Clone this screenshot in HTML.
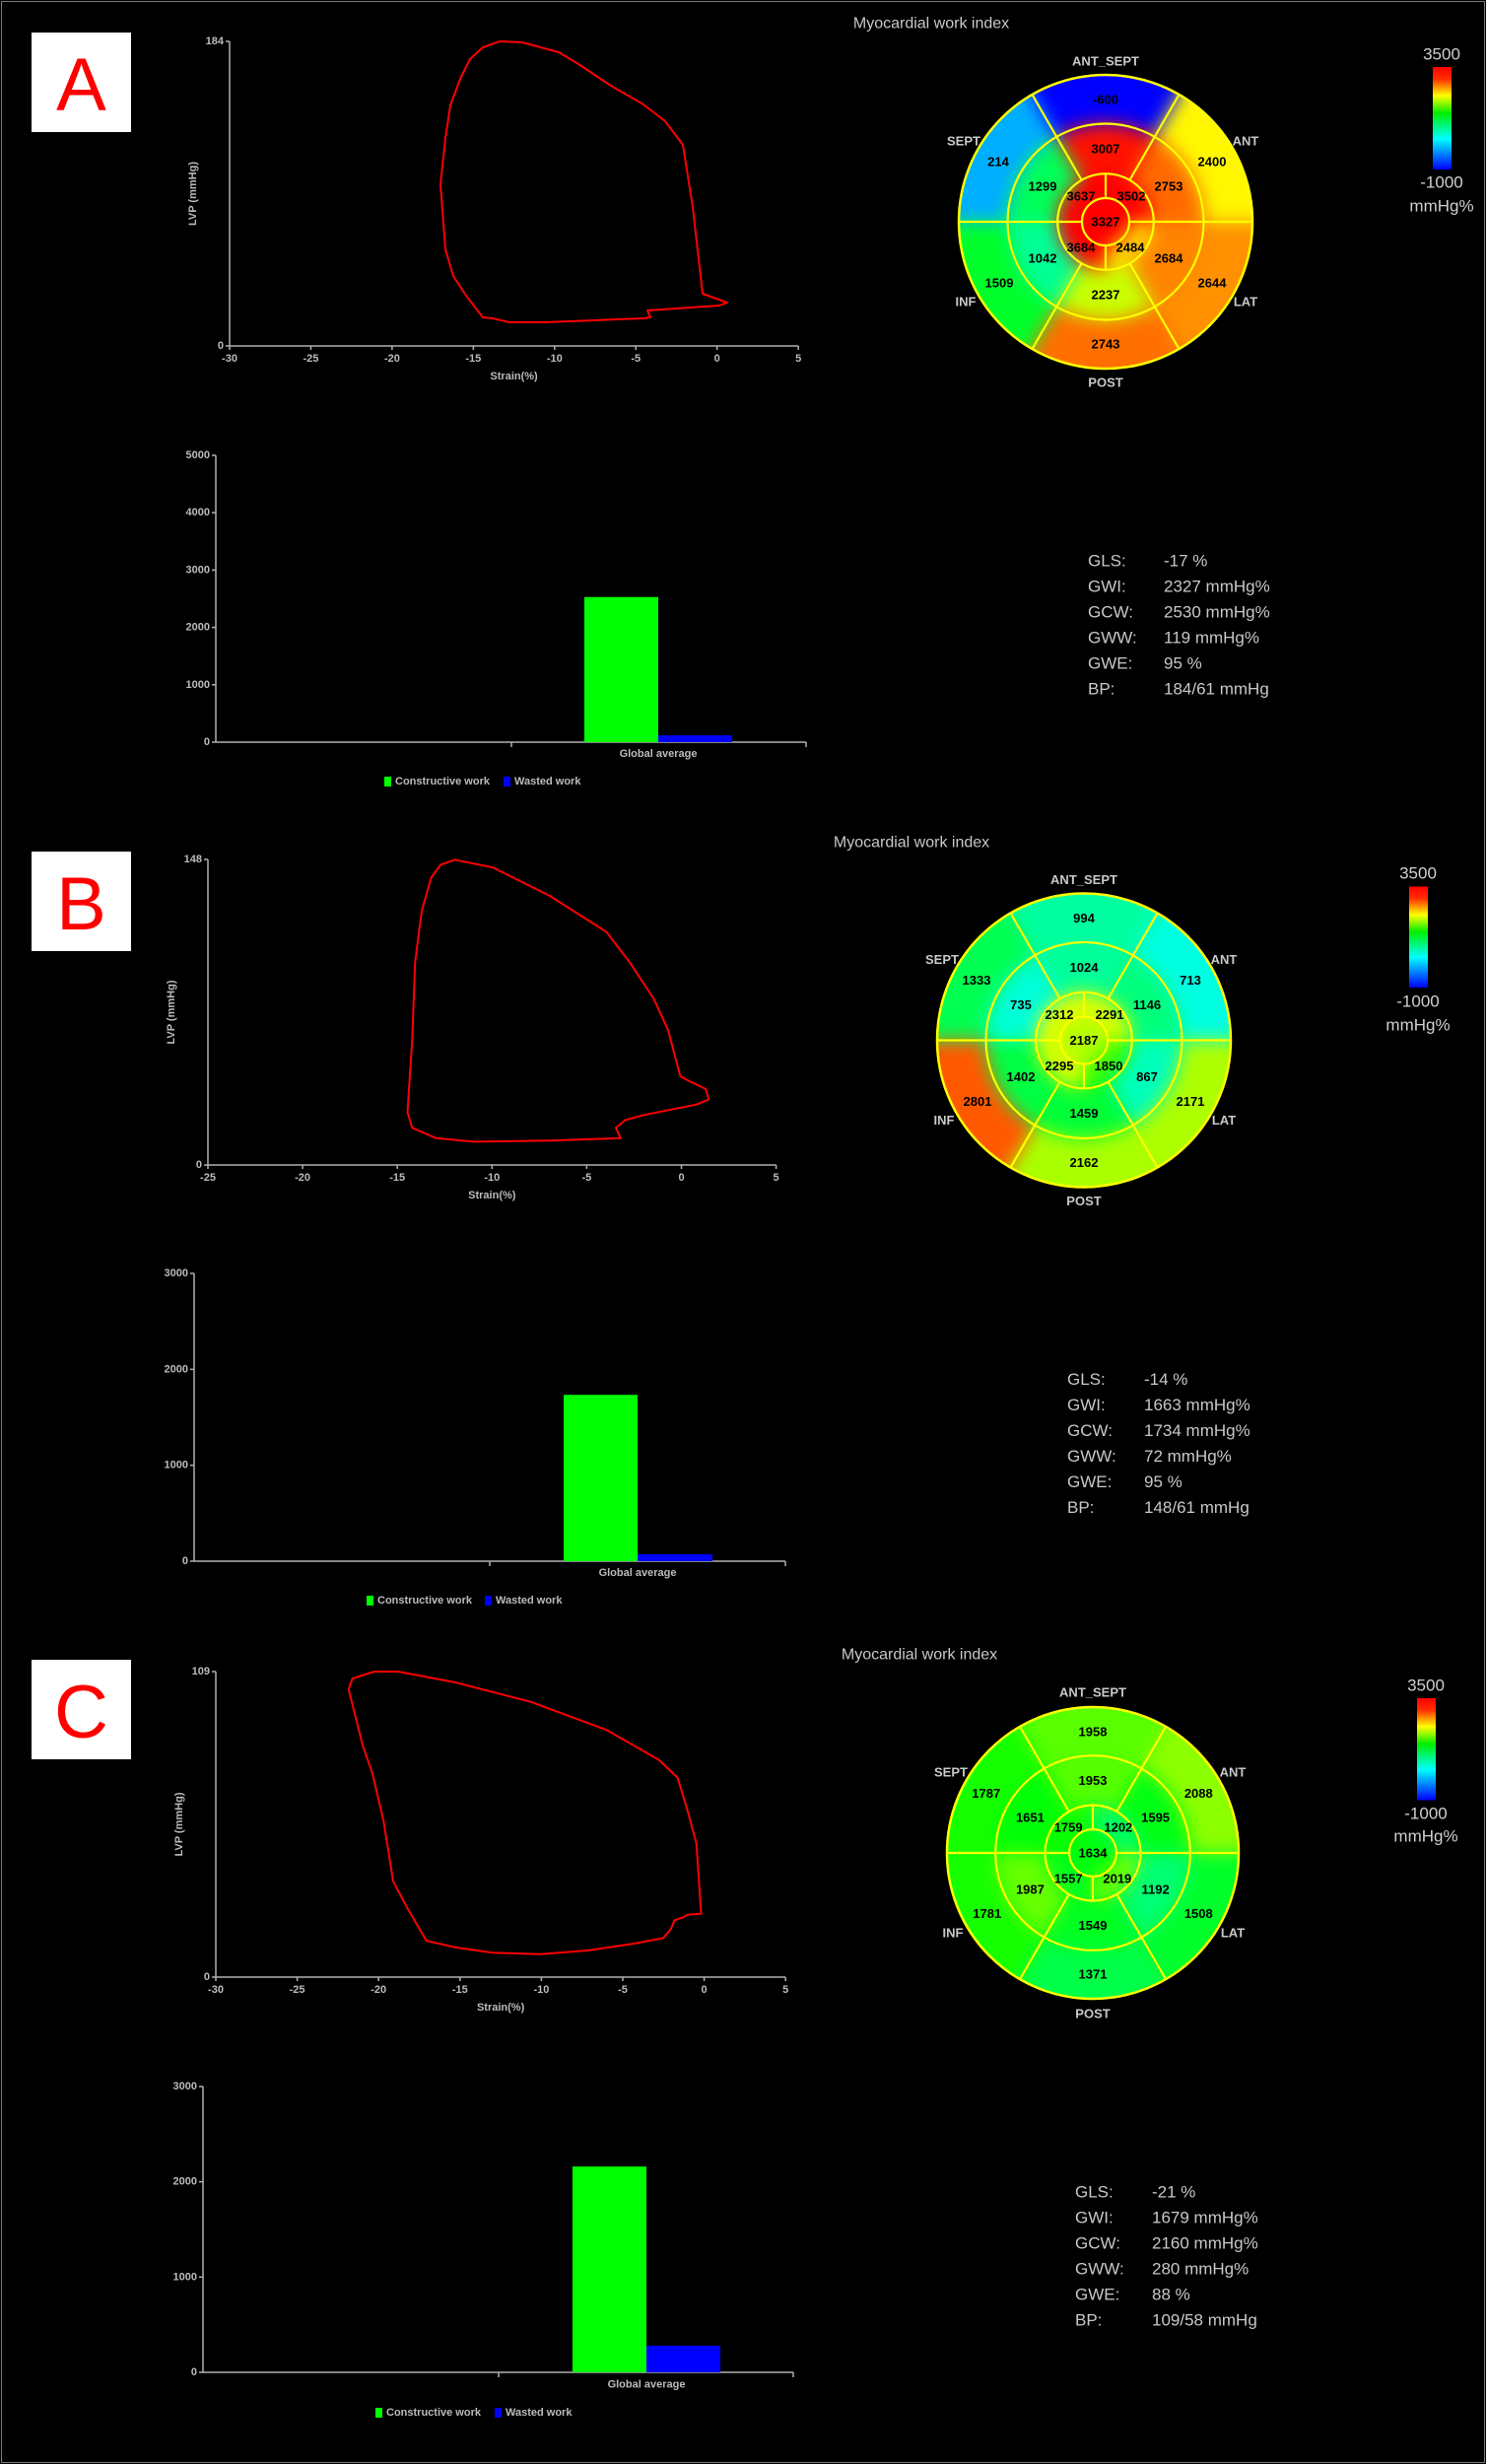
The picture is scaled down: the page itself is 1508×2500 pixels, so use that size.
<!DOCTYPE html>
<html><head><meta charset="utf-8">
<style>
html,body{margin:0;padding:0;background:#000;}
svg{display:block;}
text{font-family:"Liberation Sans",Arial,sans-serif;}
</style></head>
<body>
<svg id="s" xmlns="http://www.w3.org/2000/svg" width="1508" height="2500" viewBox="0 0 1508 2500">
<rect x="0" y="0" width="1508" height="2500" fill="#000"/>
<rect x="1.5" y="1.5" width="1505" height="2497" fill="none" stroke="#777" stroke-width="1"/>
<defs>
<filter id="bl" filterUnits="userSpaceOnUse" x="0" y="0" width="1508" height="2500"><feGaussianBlur stdDeviation="10"/></filter>
<linearGradient id="cb" x1="0" y1="0" x2="0" y2="1">
<stop offset="0" stop-color="#ff0000"/><stop offset="0.12" stop-color="#ff3000"/><stop offset="0.2" stop-color="#ff9900"/><stop offset="0.28" stop-color="#ffff00"/><stop offset="0.45" stop-color="#00ee00"/><stop offset="0.7" stop-color="#00ffff"/><stop offset="0.85" stop-color="#0080ff"/><stop offset="1" stop-color="#0000ff"/>
</linearGradient>
</defs>
<g id="root"></g>
</svg>
<script>
var NS="http://www.w3.org/2000/svg",root=document.getElementById('root');
function el(t,a,txt,p){var e=document.createElementNS(NS,t);for(var k in a)e.setAttribute(k,a[k]);if(txt!=null)e.textContent=txt;(p||root).appendChild(e);return e;}
function hue(v){var t=(v+1000)/4500;var st=[[0,240],[0.1,240],[0.35,180],[0.62,115],[0.75,60],[0.82,30],[0.9,0],[1,0]];
 if(t<=0)return 240;if(t>=1)return 0;for(var i=1;i<st.length;i++){if(t<=st[i][0]){var a=st[i-1],b=st[i];return a[1]+(b[1]-a[1])*(t-a[0])/(b[0]-a[0]);}}return 0;}
function col(v){return 'hsl('+hue(v).toFixed(0)+',100%,50%)';}
function sector(cx,cy,r1,r2,a1,a2){var d=Math.PI/180;function P(r,a){return (cx+r*Math.cos(a*d)).toFixed(2)+' '+(cy+r*Math.sin(a*d)).toFixed(2);}
 var lg=(a2-a1)>180?1:0;
 if(r1<=0)return 'M'+cx+' '+cy+' L'+P(r2,a1)+' A'+r2+' '+r2+' 0 '+lg+' 1 '+P(r2,a2)+' Z';
 return 'M'+P(r1,a1)+' L'+P(r2,a1)+' A'+r2+' '+r2+' 0 '+lg+' 1 '+P(r2,a2)+' L'+P(r1,a2)+' A'+r1+' '+r1+' 0 '+lg+' 0 '+P(r1,a1)+' Z';}
var cid=0;
function bull(cx,cy,R,v){
 var s=R/149.5,r2=99.5*s,r1=48.8*s,r0=24*s;
 cid++;el('clipPath',{id:'c'+cid});var cp=root.lastChild;el('circle',{cx:cx,cy:cy,r:R},null,cp);
 var g=el('g',{'clip-path':'url(#c'+cid+')'});var gb=el('g',{filter:'url(#bl)',style:'filter:blur(9px)'},null,g);
 var six={top:[240,300],UL:[180,240],UR:[300,360],LL:[120,180],LR:[0,60],bot:[60,120]};
 var keys=['top','UL','UR','LL','LR','bot'];
 keys.forEach(function(k,i){el('path',{d:sector(cx,cy,r2,R+40,six[k][0],six[k][1]),fill:col(v.b[i])},null,gb);});
 keys.forEach(function(k,i){el('path',{d:sector(cx,cy,r1,r2,six[k][0],six[k][1]),fill:col(v.m[i])},null,gb);});
 var four=[[180,270],[270,360],[90,180],[0,90]];
 four.forEach(function(a,i){el('path',{d:sector(cx,cy,r0,r1,a[0],a[1]),fill:col(v.a[i])},null,gb);});
 el('circle',{cx:cx,cy:cy,r:r0,fill:col(v.x)},null,gb);
 var ln={stroke:'#ffff00','stroke-width':2.2,fill:'none'};
 [r2,r1,r0].forEach(function(r){var o=Object.assign({cx:cx,cy:cy,r:r},ln);el('circle',o,null,g);});
 [60,120,240,300].forEach(function(a){var d=a*Math.PI/180;el('line',Object.assign({x1:cx+r1*Math.cos(d),y1:cy+r1*Math.sin(d),x2:cx+R*Math.cos(d),y2:cy+R*Math.sin(d)},ln),null,g);});
 el('line',Object.assign({x1:cx-R,y1:cy,x2:cx-r0,y2:cy},ln),null,g);el('line',Object.assign({x1:cx+r0,y1:cy,x2:cx+R,y2:cy},ln),null,g);
 el('line',Object.assign({x1:cx,y1:cy-r1,x2:cx,y2:cy-r0},ln),null,g);el('line',Object.assign({x1:cx,y1:cy+r0,x2:cx,y2:cy+r1},ln),null,g);
 el('circle',{cx:cx,cy:cy,r:R-0.5,stroke:'#ffff00','stroke-width':2.5,fill:'none'});
 var pos={b:[[0,-124],[-109,-61],[108,-61],[-108,62],[108,62],[0,124]],m:[[0,-74],[-64,-36],[64,-36],[-64,37],[64,37],[0,74]],a:[[-25,-26],[26,-26],[-25,26],[25,26]]};
 function num(p,val){el('text',{x:cx+p[0]*s,y:cy+p[1]*s,'text-anchor':'middle','dominant-baseline':'central','font-size':13,'font-weight':'bold',fill:'#000'},String(val));}
 for(var i=0;i<6;i++){num(pos.b[i],v.b[i]);num(pos.m[i],v.m[i]);}
 for(i=0;i<4;i++)num(pos.a[i],v.a[i]);num([0,0],v.x);
 var L=[['ANT_SEPT',0,-163],['SEPT',-144,-82],['ANT',142,-82],['INF',-142,81],['LAT',142,81],['POST',0,163]];
 L.forEach(function(l){el('text',{x:cx+l[1],y:cy+l[2],'text-anchor':'middle','dominant-baseline':'central','font-size':13,'font-weight':'bold',fill:'#c8c8c8'},l[0]);});
}
function panel(c){
 el('rect',{x:32,y:c.boxY,width:101,height:101,fill:'#fff'});
 el('text',{x:82.5,y:c.boxY+79,'text-anchor':'middle','font-size':76,fill:'#ff0000'},c.L);
 var L=c.loop,ax='#b0b0b0';
 var xr=L.x0+(L.xmax-L.xmin)*L.u;
 el('line',{x1:L.x0,y1:L.top,x2:L.x0,y2:L.y0,stroke:ax,'stroke-width':1.5});
 el('line',{x1:L.x0,y1:L.y0,x2:xr,y2:L.y0,stroke:ax,'stroke-width':1.5});
 el('line',{x1:L.x0-4,y1:L.top,x2:L.x0,y2:L.top,stroke:ax,'stroke-width':1.5});
 el('line',{x1:L.x0-4,y1:L.y0,x2:L.x0,y2:L.y0,stroke:ax,'stroke-width':1.5});
 el('text',{x:L.x0-6,y:L.top,'text-anchor':'end','dominant-baseline':'central','font-size':11,'font-weight':'bold',fill:'#bbb'},String(L.ymax));
 el('text',{x:L.x0-6,y:L.y0,'text-anchor':'end','dominant-baseline':'central','font-size':11,'font-weight':'bold',fill:'#bbb'},'0');
 for(var t=L.xmin;t<=L.xmax;t+=5){var x=L.x0+(t-L.xmin)*L.u;el('line',{x1:x,y1:L.y0,x2:x,y2:L.y0+4,stroke:ax,'stroke-width':1.5});
  el('text',{x:x,y:L.y0+13,'text-anchor':'middle','dominant-baseline':'central','font-size':11,'font-weight':'bold',fill:'#bbb'},String(t));}
 el('text',{x:(L.x0+xr)/2,y:L.y0+31,'text-anchor':'middle','dominant-baseline':'central','font-size':11,'font-weight':'bold',fill:'#bbb'},'Strain(%)');
 var my=(L.top+L.y0)/2;
 el('text',{x:L.x0-37,y:my,'text-anchor':'middle','dominant-baseline':'central','font-size':11,'font-weight':'bold',fill:'#bbb',transform:'rotate(-90 '+(L.x0-37)+' '+my+')'},'LVP (mmHg)');
 el('polygon',{points:c.pts.map(function(p){return p[0].toFixed(1)+','+p[1].toFixed(1);}).join(' '),fill:'none',stroke:'#ff0000','stroke-width':2,'stroke-linejoin':'round'});
 el('text',{x:c.title[0],y:c.title[1],'text-anchor':'middle','dominant-baseline':'central','font-size':16,fill:'#c8c8c8'},'Myocardial work index');
 bull(c.bc[0],c.bc[1],c.br||149.5,c.v);
 var cb=c.cb;el('rect',{x:cb.x,y:cb.y1,width:19,height:cb.y2-cb.y1,fill:'url(#cb)'});
 el('text',{x:cb.cx,y:cb.l[0],'text-anchor':'middle','dominant-baseline':'central','font-size':17,fill:'#d0d0d0'},'3500');
 el('text',{x:cb.cx,y:cb.l[1],'text-anchor':'middle','dominant-baseline':'central','font-size':17,fill:'#d0d0d0'},'-1000');
 el('text',{x:cb.cx,y:cb.l[2],'text-anchor':'middle','dominant-baseline':'central','font-size':17,fill:'#d0d0d0'},'mmHg%');
 var B=c.bar,ppu=(B.zero-B.top)/B.max;
 el('line',{x1:B.x,y1:B.top,x2:B.x,y2:B.zero,stroke:ax,'stroke-width':1.5});
 el('line',{x1:B.x,y1:B.zero,x2:B.right,y2:B.zero,stroke:ax,'stroke-width':1.5});
 for(var k=0;k<=B.max;k+=1000){var y=B.zero-k*ppu;el('line',{x1:B.x-4,y1:y,x2:B.x,y2:y,stroke:ax,'stroke-width':1.5});
  el('text',{x:B.x-6,y:y,'text-anchor':'end','dominant-baseline':'central','font-size':11,'font-weight':'bold',fill:'#bbb'},String(k));}
 [B.mid,B.right].forEach(function(x){el('line',{x1:x,y1:B.zero,x2:x,y2:B.zero+5,stroke:ax,'stroke-width':1.5});});
 el('rect',{x:B.g[0],y:B.zero-B.gv*ppu,width:B.g[1]-B.g[0],height:B.gv*ppu,fill:'#00ff00'});
 el('rect',{x:B.g[1],y:B.zero-B.bv*ppu,width:B.b1-B.g[1],height:B.bv*ppu,fill:'#0000ff'});
 el('text',{x:B.g[1],y:B.ga,'text-anchor':'middle','dominant-baseline':'central','font-size':11,'font-weight':'bold',fill:'#bbb'},'Global average');
 el('rect',{x:B.sq[0],y:B.leg-5,width:7,height:10,fill:'#00ff00'});
 el('text',{x:B.sq[0]+11,y:B.leg,'dominant-baseline':'central','font-size':11,'font-weight':'bold',fill:'#bbb'},'Constructive work');
 el('rect',{x:B.sq[1],y:B.leg-5,width:7,height:10,fill:'#0000ff'});
 el('text',{x:B.sq[1]+11,y:B.leg,'dominant-baseline':'central','font-size':11,'font-weight':'bold',fill:'#bbb'},'Wasted work');
 var S=c.st;c.stats.forEach(function(r,i){var y=S.y0+i*26;
  el('text',{x:S.lx,y:y,'dominant-baseline':'central','font-size':17,fill:'#c8c8c8'},r[0]);
  el('text',{x:S.vx,y:y,'dominant-baseline':'central','font-size':17,fill:'#c8c8c8'},r[1]);});
}
var ptsA=[[507,42],[530,43],[567,53],[587,65],[620,87],[653,106],[675,123],[693,147],[703,210],[713,298],[738,307],[730,310],[657,315],[660,322],[653,323],[553,327],[517,327],[500,323],[490,322],[473,300],[460,280],[452,253],[447,187],[452,140],[457,107],[467,80],[477,60],[490,48]];
function cv(a,sx,sy,oy){return a.map(function(p){return [p[0]/sx,p[1]/sy+oy];});}
var ptsB=cv([[480,100],[520,115],[580,170],[640,240],[665,300],[690,370],[705,430],[718,520],[728,530],[745,545],[748,565],[735,575],[680,595],[660,605],[650,620],[655,640],[580,645],[500,647],[460,640],[435,620],[430,590],[435,450],[438,300],[445,200],[455,135],[465,110]],1.04,1.912,820);
var ptsC=cv([[395,102],[420,102],[480,122],[560,158],[640,210],[695,265],[715,298],[725,355],[735,420],[740,550],[725,552],[722,556],[712,562],[708,578],[700,595],[670,605],[620,618],[570,625],[520,622],[480,612],[450,600],[430,540],[415,490],[405,380],[393,290],[383,240],[368,135],[372,115]],1.04,1.823,1640);
panel({L:'A',boxY:33,loop:{x0:233,u:16.49,xmin:-30,xmax:5,y0:351,top:42,ymax:184},pts:ptsA,title:[945,24],bc:[1122,225],
 v:{b:[-600,214,2400,1509,2644,2743],m:[3007,1299,2753,1042,2684,2237],a:[3637,3502,3684,2484],x:3327},
 cb:{x:1454,y1:68,y2:172,cx:1463,l:[55,185,209]},
 bar:{x:219,top:462,zero:753,max:5000,right:818,mid:519,g:[593,668],b1:743,gv:2530,bv:119,ga:765,leg:793,sq:[390,511]},
 st:{lx:1104,vx:1181,y0:569},stats:[['GLS:','-17 %'],['GWI:','2327 mmHg%'],['GCW:','2530 mmHg%'],['GWW:','119 mmHg%'],['GWE:','95 %'],['BP:','184/61 mmHg']]});
panel({L:'B',boxY:864,loop:{x0:211,u:19.22,xmin:-25,xmax:5,y0:1182,top:872,ymax:148},pts:ptsB,title:[925,855],bc:[1100,1055.5],
 v:{b:[994,1333,713,2801,2171,2162],m:[1024,735,1146,1402,867,1459],a:[2312,2291,2295,1850],x:2187},
 cb:{x:1430,y1:899.5,y2:1002,cx:1439,l:[886,1016,1040]},
 bar:{x:197,top:1292,zero:1584,max:3000,right:797,mid:497,g:[572,647],b1:723,gv:1734,bv:72,ga:1596,leg:1624,sq:[372,492]},
 st:{lx:1083,vx:1161,y0:1399.5},stats:[['GLS:','-14 %'],['GWI:','1663 mmHg%'],['GCW:','1734 mmHg%'],['GWW:','72 mmHg%'],['GWE:','95 %'],['BP:','148/61 mmHg']]});
panel({L:'C',boxY:1684,loop:{x0:219,u:16.52,xmin:-30,xmax:5,y0:2006,top:1696,ymax:109},pts:ptsC,title:[933,1679],bc:[1109,1880],br:148.5,
 v:{b:[1958,1787,2088,1781,1508,1371],m:[1953,1651,1595,1987,1192,1549],a:[1759,1202,1557,2019],x:1634},
 cb:{x:1438,y1:1723,y2:1826.5,cx:1447,l:[1710,1840,1863]},
 bar:{x:206,top:2117,zero:2407,max:3000,right:805,mid:506,g:[581,656],b1:731,gv:2160,bv:280,ga:2419.5,leg:2448,sq:[381,502]},
 st:{lx:1091,vx:1169,y0:2224},stats:[['GLS:','-21 %'],['GWI:','1679 mmHg%'],['GCW:','2160 mmHg%'],['GWW:','280 mmHg%'],['GWE:','88 %'],['BP:','109/58 mmHg']]});
</script>
</body></html>
